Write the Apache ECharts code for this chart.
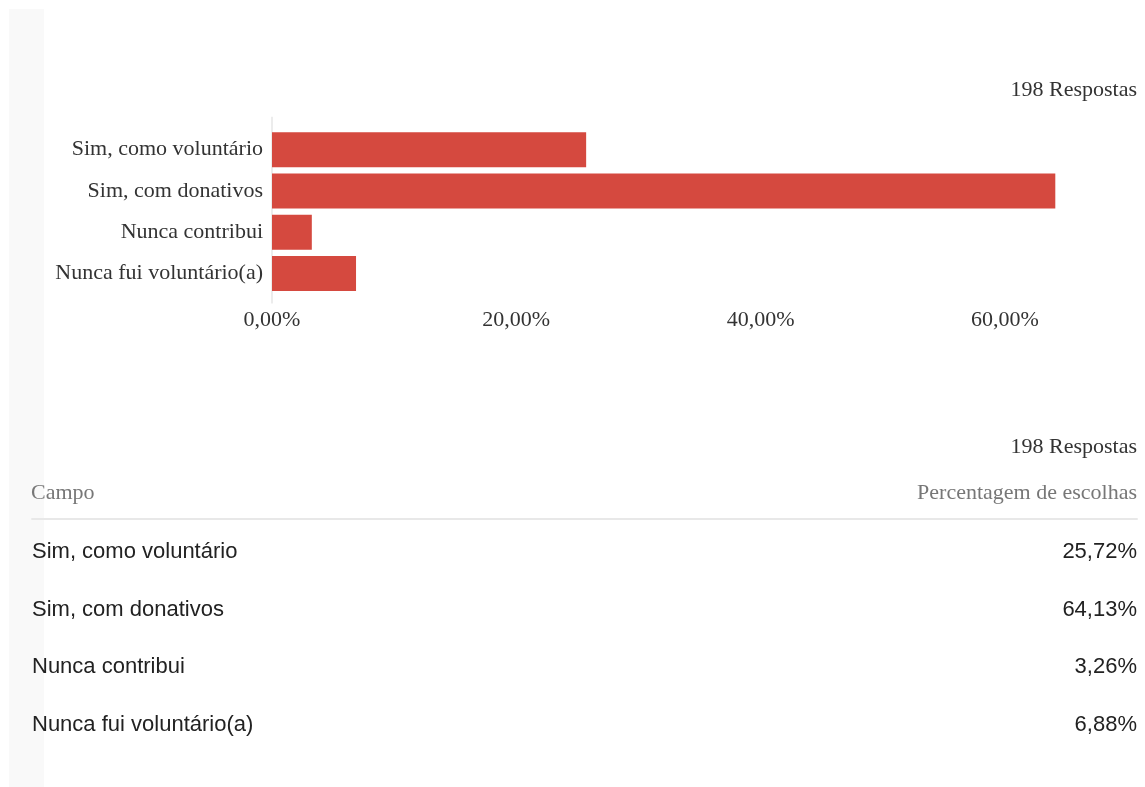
<!DOCTYPE html>
<html>
<head>
<meta charset="utf-8">
<script src="https://cdn.jsdelivr.net/npm/echarts@6/dist/echarts.min.js"></script>
<style>
  html, body { margin: 0; padding: 0; background: #fff; }
  #chart { width: 1145px; height: 787px; }
</style>
</head>
<body>
<div id="chart"></div>
<script>
// dados do inquérito
const categorias = ['Sim, como voluntário', 'Sim, com donativos', 'Nunca contribui', 'Nunca fui voluntário(a)']
const percentagens = [25.72, 64.13, 3.26, 6.88]
const totalRespostas = 198
const ticksEixo = [0, 20, 40, 60]

const SERIF = '"Liberation Serif", "DejaVu Serif", serif'
const SANS = '"Liberation Sans", Arial, sans-serif'
const VERMELHO = '#d5493f'

// formata 25.72 -> "25,72%"
function fmtPct(v) {
  return v.toFixed(2).replace('.', ',') + '%'
}

const chart = echarts.init(document.getElementById('chart'))

const option = {
  backgroundColor: '#fff',
  animation: false,
  title: [
    {
      text: totalRespostas + ' Respostas',
      right: 3, top: 74,
      textStyle: { fontFamily: SERIF, fontSize: 22, fontWeight: 'normal', color: '#333' },
    },
    {
      text: totalRespostas + ' Respostas',
      right: 3, top: 431,
      textStyle: { fontFamily: SERIF, fontSize: 22, fontWeight: 'normal', color: '#333' },
    },
    {
      text: 'Campo',
      left: 26, top: 477,
      textStyle: { fontFamily: SERIF, fontSize: 22, fontWeight: 'normal', color: '#777' },
    },
    {
      text: 'Percentagem de escolhas',
      right: 3, top: 477,
      textStyle: { fontFamily: SERIF, fontSize: 22, fontWeight: 'normal', color: '#777' },
    },
  ],
  grid: [
    { left: 272, right: 18, top: 129, height: 165 },
    { left: 32, right: 8, top: 523, height: 231 },
  ],
  xAxis: [
    {
      gridIndex: 0,
      type: 'value',
      min: 0,
      max: 70,
      interval: ticksEixo[1] - ticksEixo[0],
      axisLine: { show: false },
      axisTick: { show: false },
      splitLine: { show: false },
      axisLabel: {
        showMaxLabel: false,
        margin: 15,
        fontFamily: SERIF,
        fontSize: 22,
        color: '#333',
        formatter: (v) => (ticksEixo.includes(v) ? fmtPct(v) : ''),
      },
    },
    {
      gridIndex: 1,
      type: 'value',
      position: 'top',
      offset: 4,
      axisLine: { show: true, lineStyle: { color: '#e8e8e8', width: 2 } },
      axisTick: { show: false },
      axisLabel: { show: false },
      splitLine: { show: false },
    },
  ],
  yAxis: [
    {
      gridIndex: 0,
      type: 'category',
      inverse: true,
      data: categorias,
      axisLine: { show: false },
      axisTick: { show: false },
      axisLabel: { margin: 9, fontFamily: SERIF, fontSize: 22, color: '#333' },
    },
    {
      gridIndex: 1,
      type: 'category',
      inverse: true,
      data: categorias,
      axisLine: { show: false },
      axisTick: { show: false },
      axisLabel: { inside: true, margin: 0, fontFamily: SANS, fontSize: 22, color: '#222' },
    },
    {
      gridIndex: 1,
      type: 'category',
      position: 'right',
      inverse: true,
      data: percentagens.map(fmtPct),
      axisLine: { show: false },
      axisTick: { show: false },
      axisLabel: { inside: true, margin: 0, fontFamily: SANS, fontSize: 22, color: '#222' },
    },
  ],
  series: [
    {
      type: 'bar',
      xAxisIndex: 0,
      yAxisIndex: 0,
      data: percentagens,
      barWidth: 35,
      itemStyle: { color: VERMELHO },
    },
  ],
}

chart.setOption(option)

// faixa cinzenta à esquerda e linha vertical do eixo (prolongada além das barras)
const x0 = chart.convertToPixel({ gridIndex: 0 }, [0, 0])[0]
const topo = chart.convertToPixel({ xAxisIndex: 0, yAxisIndex: 0 }, [0, categorias[0]])[1]
const fundo = chart.convertToPixel({ xAxisIndex: 0, yAxisIndex: 0 }, [0, categorias[categorias.length - 1]])[1]
chart.setOption({
  graphic: [
    {
      type: 'rect',
      z: -10,
      shape: { x: 9, y: 9, width: 35, height: 800 },
      style: { fill: '#f9f9f9' },
    },
    {
      type: 'line',
      z: -1,
      shape: { x1: x0, y1: topo - 33, x2: x0, y2: fundo + 30 },
      style: { stroke: '#e6e6e6', lineWidth: 1.5 },
    },
  ],
})
</script>
</body>
</html>
